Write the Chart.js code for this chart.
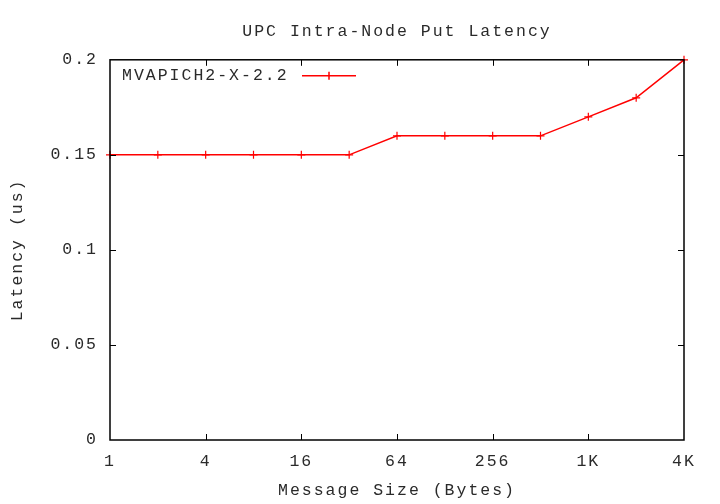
<!DOCTYPE html>
<html lang="en">
<head>
    <meta charset="UTF-8">
    <title>UPC Intra-Node Put Latency</title>
    <script src="https://cdn.jsdelivr.net/npm/chart.js@4.4.1/dist/chart.umd.min.js"></script>
    <style>
        body { margin: 0; background: #fff; }
        .chart-box { width: 720px; height: 504px; position: relative; }
    </style>
</head>
<body>
    <div class="chart-box">
        <canvas id="latencyChart"></canvas>
    </div>

    <script>
        // Message sizes (bytes) and measured latency (us)
        const messageSizes = [1, 2, 4, 8, 16, 32, 64, 128, 256, 512, 1024, 2048, 4096];
        const latency = [0.15, 0.15, 0.15, 0.15, 0.15, 0.15, 0.16, 0.16, 0.16, 0.16, 0.17, 0.18, 0.20];
        const xTickLabels = ['1', '4', '16', '64', '256', '1K', '4K'];
        const seriesName = 'MVAPICH2-X-2.2';

        const FONT = "'Liberation Mono', 'DejaVu Sans Mono', monospace";
        const TEXT = '#2a2a2a';

        // gnuplot-like frame: border box, inward ticks mirrored, legend inside
        const gnuplotFrame = {
            id: 'gnuplotFrame',
            beforeUpdate(chart) { chart.ctx.letterSpacing = '2px'; },
            beforeDraw(chart) { chart.ctx.letterSpacing = '2px'; },
            afterDatasetsDraw(chart) {
                const { ctx, chartArea: a, scales: { x, y } } = chart;
                ctx.save();
                ctx.strokeStyle = '#000';
                ctx.lineWidth = 1;
                ctx.beginPath();
                x.ticks.forEach(t => {
                    const px = Math.round(x.getPixelForValue(t.value)) + 0.5;
                    if (t.value === x.min || t.value === x.max) return;
                    ctx.moveTo(px, a.bottom); ctx.lineTo(px, a.bottom - 6);
                    ctx.moveTo(px, a.top); ctx.lineTo(px, a.top + 6);
                });
                y.ticks.forEach(t => {
                    const py = Math.round(y.getPixelForValue(t.value)) + 0.5;
                    if (t.value === y.min || t.value === y.max) return;
                    ctx.moveTo(a.left, py); ctx.lineTo(a.left + 6, py);
                    ctx.moveTo(a.right, py); ctx.lineTo(a.right - 6, py);
                });
                ctx.stroke();
                ctx.lineWidth = 1.5;
                ctx.strokeRect(a.left, a.top, a.right - a.left, a.bottom - a.top);

                // legend: text then line sample with a cross
                ctx.letterSpacing = '2px';
                ctx.font = '16.5px ' + FONT;
                ctx.fillStyle = TEXT;
                ctx.textBaseline = 'middle';
                ctx.textAlign = 'left';
                const ly = a.top + 16;
                ctx.fillText(seriesName, a.left + 12, ly);
                ctx.strokeStyle = 'red';
                ctx.lineWidth = 1.5;
                ctx.beginPath();
                ctx.moveTo(a.left + 192, ly); ctx.lineTo(a.left + 246, ly);
                ctx.moveTo(a.left + 219, ly - 4); ctx.lineTo(a.left + 219, ly + 4);
                ctx.stroke();
                ctx.restore();
            }
        };

        const ctx = document.getElementById('latencyChart').getContext('2d');
        new Chart(ctx, {
            type: 'line',
            data: {
                datasets: [{
                    label: seriesName,
                    data: messageSizes.map((s, i) => ({ x: Math.log2(s), y: latency[i] })),
                    borderColor: 'red',
                    backgroundColor: 'red',
                    borderWidth: 1.5,
                    pointStyle: 'cross',
                    pointRadius: 4,
                    pointBorderWidth: 1.2,
                    tension: 0,
                    clip: false
                }]
            },
            options: {
                responsive: true,
                maintainAspectRatio: false,
                animation: false,
                layout: { padding: { top: 0, right: 36, bottom: 0, left: 0 } },
                plugins: {
                    legend: { display: false },
                    tooltip: { enabled: false },
                    title: {
                        display: true,
                        fullSize: false,
                        text: 'UPC Intra-Node Put Latency',
                        color: TEXT,
                        font: { family: FONT, size: 16.5, weight: 'normal' },
                        padding: { top: 22, bottom: 18 }
                    }
                },
                scales: {
                    x: {
                        type: 'linear',
                        min: 0,
                        max: 12,
                        afterFit: s => { s.height = 64; },
                        ticks: {
                            stepSize: 2,
                            padding: 12,
                            color: TEXT,
                            font: { family: FONT, size: 16.5 },
                            maxRotation: 0,
                            callback: v => xTickLabels[v / 2]
                        },
                        grid: { display: false, drawTicks: false },
                        border: { display: false },
                        title: {
                            display: true,
                            text: 'Message Size (Bytes)',
                            color: TEXT,
                            font: { family: FONT, size: 16.5 },
                            padding: { top: 0, bottom: 3 }
                        }
                    },
                    y: {
                        min: 0,
                        max: 0.2,
                        afterFit: s => { s.width = 110; },
                        ticks: {
                            stepSize: 0.05,
                            padding: 12,
                            color: TEXT,
                            font: { family: FONT, size: 16.5 },
                            callback: v => String(Number(v.toFixed(2)))
                        },
                        grid: { display: false, drawTicks: false },
                        border: { display: false },
                        title: {
                            display: true,
                            text: 'Latency (us)',
                            color: TEXT,
                            font: { family: FONT, size: 16.5 },
                            padding: { top: 8, bottom: 0 }
                        }
                    }
                }
            },
            plugins: [gnuplotFrame]
        });
    </script>
</body>
</html>
